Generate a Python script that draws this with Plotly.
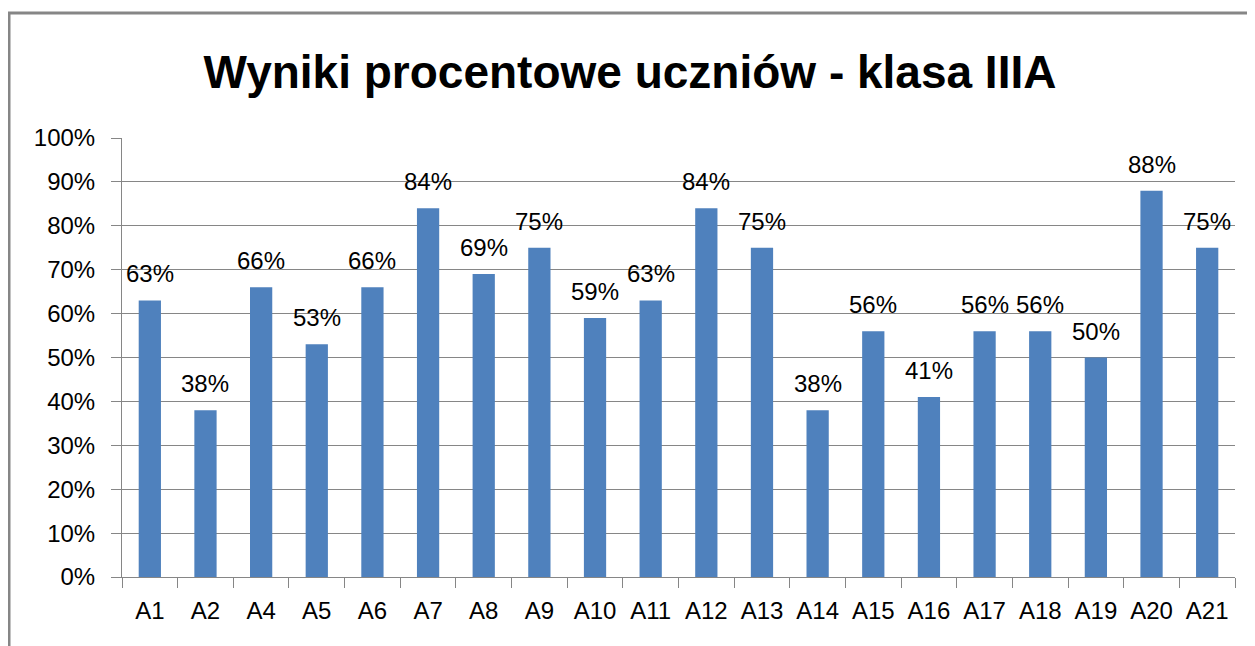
import plotly.graph_objects as go

categories = ["A1", "A2", "A4", "A5", "A6", "A7", "A8", "A9", "A10", "A11",
              "A12", "A13", "A14", "A15", "A16", "A17", "A18", "A19", "A20", "A21"]
values = [0.63, 0.38, 0.66, 0.53, 0.66, 0.84, 0.69, 0.75, 0.59, 0.63,
          0.84, 0.75, 0.38, 0.56, 0.41, 0.56, 0.56, 0.50, 0.88, 0.75]
y_ticks = [0, 0.1, 0.2, 0.3, 0.4, 0.5, 0.6, 0.7, 0.8, 0.9, 1.0]
y_tick_labels = ["0%", "10%", "20%", "30%", "40%", "50%", "60%", "70%", "80%", "90%", "100%"]
title_text = "Wyniki procentowe uczniów - klasa IIIA"

FONT = "Liberation Sans"
GRAY = "#868686"

W, H = 1255, 646
L, T, B = 114, 130, 77
R = W - 1227
PW = W - L - R
PH = H - T - B

fig = go.Figure()
fig.add_trace(go.Bar(
    x=categories, y=values,
    marker=dict(color="#4F81BD", line=dict(width=0)),
    width=0.4,
    hoverinfo="x+y",
))

for c, v in zip(categories, values):
    fig.add_annotation(
        x=c, y=v, text=f"{round(v*100)}%", showarrow=False,
        yanchor="bottom", yshift=11,
        font=dict(family=FONT, size=24, color="#000000"),
    )

fig.update_layout(
    width=W, height=H,
    margin=dict(l=L, r=R, t=T, b=B),
    paper_bgcolor="white", plot_bgcolor="white",
    showlegend=False,
    title=dict(text="<b>" + title_text + "</b>", xref="container", yref="container",
               x=(630 - 8) / W, y=1 - 64 / H, xanchor="center", yanchor="middle",
               font=dict(family=FONT, size=46, color="#000000")),
    xaxis=dict(
        type="category", tickson="boundaries", ticks="outside", ticklen=10,
        tickcolor=GRAY, tickwidth=1, showline=True, linecolor=GRAY, linewidth=1,
        showgrid=False, tickfont=dict(family=FONT, size=24, color="#000000"),
        ticklabelstandoff=12,
        range=[-0.5, len(categories) - 0.5],
    ),
    yaxis=dict(
        range=[0, 1.0], tickvals=y_ticks, ticktext=y_tick_labels,
        ticks="outside", ticklen=10, tickcolor=GRAY, tickwidth=1,
        showline=True, linecolor=GRAY, linewidth=1,
        showgrid=True, gridcolor=GRAY, gridwidth=1, zeroline=False,
        ticklabelstandoff=11,
        tickfont=dict(family=FONT, size=24, color="#000000"),
    ),
)

# outer chart border (extends past right and bottom edges)
fig.add_shape(type="rect", xref="paper", yref="paper",
              x0=(1 - L) / PW, x1=1.2, y0=-0.3, y1=(T + PH - 5) / PH,
              line=dict(color=GRAY, width=3), fillcolor="rgba(0,0,0,0)", layer="below")

fig.write_html("out.html")
